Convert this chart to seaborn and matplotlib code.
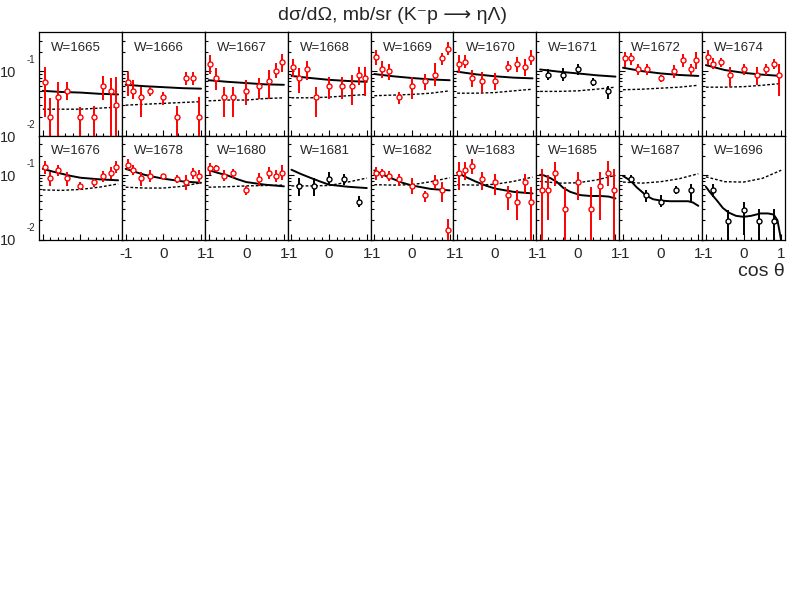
import numpy as np
import pandas as pd
import matplotlib
matplotlib.use("Agg")
import matplotlib.pyplot as plt
import matplotlib.transforms as mtransforms
from matplotlib.ticker import FixedLocator, NullFormatter, MultipleLocator
import seaborn as sns

# ---------------- data ----------------
W_LABELS = [1665, 1666, 1667, 1668, 1669, 1670, 1671, 1672, 1674,
            1676, 1678, 1680, 1681, 1682, 1683, 1685, 1687, 1696]
BLACK_W = [1671, 1681, 1687, 1696]

COS9 = [-0.95, -0.8, -0.6, -0.35, 0.0, 0.35, 0.6, 0.8, 0.95]
COS5 = [-0.8, -0.4, 0.0, 0.4, 0.8]

dsig = [
    [0.069, 0.020, 0.040, 0.050, 0.020, 0.020, 0.059, 0.050, 0.030],
    [0.069, 0.050, 0.040, 0.050, 0.040, 0.020, 0.079, 0.079, 0.020],
    [0.129, 0.079, 0.040, 0.040, 0.050, 0.059, 0.070, 0.102, 0.139],
    [0.118, 0.078, 0.107, 0.040, 0.059, 0.059, 0.059, 0.089, 0.079],
    [0.167, 0.107, 0.100, 0.040, 0.059, 0.070, 0.089, 0.159, 0.226],
    [0.129, 0.139, 0.079, 0.070, 0.070, 0.118, 0.129, 0.118, 0.164],
    [0.089, 0.089, 0.107, 0.069, 0.050],
    [0.159, 0.159, 0.107, 0.107, 0.079, 0.100, 0.149, 0.107, 0.149],
    [0.167, 0.129, 0.139, 0.089, 0.107, 0.089, 0.107, 0.129, 0.089],
    [0.133, 0.090, 0.118, 0.090, 0.069, 0.078, 0.097, 0.109, 0.135],
    [0.144, 0.118, 0.090, 0.097, 0.097, 0.088, 0.078, 0.108, 0.097],
    [0.128, 0.128, 0.097, 0.108, 0.058, 0.088, 0.108, 0.097, 0.108],
    [0.069, 0.069, 0.088, 0.088, 0.039],
    [0.108, 0.108, 0.097, 0.088, 0.067, 0.0485, 0.078, 0.058, 0.0141],
    [0.108, 0.118, 0.138, 0.088, 0.078, 0.0485, 0.039, 0.078, 0.039],
    [0.059, 0.059, 0.108, 0.0295, 0.078, 0.0295, 0.067, 0.108, 0.059],
    [0.088, 0.0485, 0.039, 0.059, 0.059],
    [0.059, 0.0194, 0.029, 0.0194, 0.0194],
]
err_hi = [
    [0.118, 0.0384, 0.069, 0.069, 0.0285, 0.029, 0.085, 0.078, 0.083],
    [0.099, 0.073, 0.058, 0.058, 0.048, 0.029, 0.099, 0.099, 0.040],
    [0.178, 0.111, 0.058, 0.058, 0.073, 0.078, 0.105, 0.133, 0.189],
    [0.153, 0.111, 0.146, 0.058, 0.083, 0.083, 0.088, 0.118, 0.118],
    [0.218, 0.146, 0.128, 0.048, 0.081, 0.090, 0.133, 0.190, 0.286],
    [0.178, 0.178, 0.105, 0.099, 0.093, 0.146, 0.167, 0.153, 0.213],
    [0.107, 0.111, 0.128, 0.078, 0.059],
    [0.203, 0.190, 0.128, 0.128, 0.088, 0.125, 0.189, 0.128, 0.197],
    [0.213, 0.159, 0.163, 0.118, 0.128, 0.118, 0.128, 0.153, 0.128],
    [0.168, 0.111, 0.144, 0.111, 0.078, 0.088, 0.114, 0.133, 0.168],
    [0.178, 0.141, 0.111, 0.118, 0.105, 0.099, 0.099, 0.128, 0.118],
    [0.155, 0.144, 0.118, 0.125, 0.069, 0.108, 0.133, 0.118, 0.141],
    [0.090, 0.090, 0.111, 0.105, 0.047],
    [0.133, 0.125, 0.114, 0.105, 0.090, 0.056, 0.099, 0.078, 0.0208],
    [0.158, 0.158, 0.178, 0.111, 0.105, 0.067, 0.058, 0.105, 0.065],
    [0.125, 0.099, 0.158, 0.065, 0.111, 0.065, 0.111, 0.168, 0.125],
    [0.101, 0.058, 0.050, 0.069, 0.0735],
    [0.0735, 0.0285, 0.0384, 0.0303, 0.0303],
]
err_lo = [
    [0.020, 0.005, 0.005, 0.036, 0.005, 0.005, 0.036, 0.005, 0.005],
    [0.041, 0.038, 0.020, 0.041, 0.030, 0.005, 0.062, 0.062, 0.005],
    [0.091, 0.051, 0.020, 0.020, 0.030, 0.038, 0.038, 0.078, 0.099],
    [0.083, 0.047, 0.073, 0.020, 0.038, 0.038, 0.030, 0.062, 0.041],
    [0.126, 0.078, 0.073, 0.031, 0.038, 0.051, 0.059, 0.126, 0.178],
    [0.093, 0.111, 0.058, 0.047, 0.051, 0.099, 0.099, 0.085, 0.126],
    [0.073, 0.070, 0.089, 0.059, 0.038],
    [0.118, 0.125, 0.088, 0.088, 0.069, 0.078, 0.118, 0.088, 0.107],
    [0.125, 0.107, 0.118, 0.058, 0.088, 0.062, 0.088, 0.107, 0.041],
    [0.105, 0.069, 0.097, 0.069, 0.0615, 0.065, 0.078, 0.088, 0.108],
    [0.118, 0.099, 0.069, 0.078, 0.088, 0.076, 0.058, 0.088, 0.076],
    [0.101, 0.111, 0.080, 0.090, 0.0485, 0.069, 0.088, 0.078, 0.083],
    [0.047, 0.047, 0.071, 0.071, 0.032],
    [0.083, 0.090, 0.080, 0.069, 0.0515, 0.039, 0.060, 0.039, 0.0095],
    [0.058, 0.083, 0.105, 0.058, 0.0485, 0.0285, 0.020, 0.0515, 0.005],
    [0.005, 0.020, 0.069, 0.005, 0.0407, 0.005, 0.020, 0.069, 0.005],
    [0.076, 0.039, 0.032, 0.0515, 0.039],
    [0.046, 0.005, 0.012, 0.005, 0.005],
]

CX5 = [-1.0, -0.5, 0.0, 0.5, 1.0]
CX7 = [-1.0, -0.75, -0.5, -0.25, 0.0, 0.5, 1.0]
CX1685 = [-1.0, -0.9, -0.73, -0.55, -0.38, -0.2, 0.07, 0.33, 0.6, 0.82, 1.0]
CX1687 = [-1.0, -0.8, -0.64, -0.37, -0.2, 0.0, 0.25, 0.5, 0.73, 0.86, 1.0]
CX1696 = [-1.0, -0.9, -0.7, -0.55, -0.4, -0.2, 0.0, 0.2, 0.45, 0.65, 0.8, 0.9, 0.97, 1.0]
solid_x = [CX5] * 9 + [CX7] * 6 + [CX1685, CX1687, CX1696]
solid_y = [
    [0.050, 0.048, 0.047, 0.045, 0.044],
    [0.062, 0.059, 0.057, 0.055, 0.054],
    [0.073, 0.069, 0.066, 0.063, 0.062],
    [0.085, 0.079, 0.074, 0.071, 0.069],
    [0.091, 0.084, 0.079, 0.075, 0.073],
    [0.099, 0.090, 0.084, 0.080, 0.078],
    [0.107, 0.099, 0.093, 0.087, 0.083],
    [0.114, 0.101, 0.093, 0.088, 0.085],
    [0.125, 0.105, 0.095, 0.089, 0.085],
    [0.125, 0.114, 0.105, 0.097, 0.091, 0.086, 0.083],
    [0.125, 0.112, 0.101, 0.094, 0.088, 0.080, 0.076],
    [0.120, 0.108, 0.099, 0.087, 0.078, 0.071, 0.067],
    [0.121, 0.104, 0.091, 0.080, 0.071, 0.066, 0.063],
    [0.118, 0.100, 0.087, 0.076, 0.069, 0.061, 0.058],
    [0.109, 0.092, 0.079, 0.069, 0.062, 0.055, 0.052],
    [0.101, 0.099, 0.090, 0.078, 0.063, 0.055, 0.049, 0.0475, 0.0475, 0.0465, 0.0435],
    [0.097, 0.082, 0.065, 0.0475, 0.0423, 0.0403, 0.0394, 0.0394, 0.0394, 0.0376, 0.0334],
    [0.066, 0.055, 0.040, 0.031, 0.0264, 0.0234, 0.0226, 0.0234, 0.0255, 0.0255, 0.0245, 0.020, 0.012, 0.0095],
]
dashed_y = [
    [0.026, 0.026, 0.026, 0.027, 0.028],
    [0.030, 0.031, 0.032, 0.033, 0.034],
    [0.035, 0.036, 0.036, 0.038, 0.039],
    [0.039, 0.039, 0.040, 0.042, 0.044],
    [0.042, 0.043, 0.044, 0.046, 0.050],
    [0.046, 0.046, 0.047, 0.050, 0.053],
    [0.049, 0.049, 0.050, 0.053, 0.057],
    [0.052, 0.053, 0.055, 0.057, 0.061],
    [0.057, 0.057, 0.058, 0.061, 0.065],
    [0.059, 0.058, 0.060, 0.065, 0.073],
    [0.065, 0.063, 0.063, 0.067, 0.076],
    [0.065, 0.066, 0.068, 0.069, 0.070],
    [0.068, 0.068, 0.069, 0.078, 0.090],
    [0.071, 0.070, 0.071, 0.079, 0.091],
    [0.071, 0.070, 0.072, 0.080, 0.093],
    [0.080, 0.075, 0.076, 0.084, 0.099],
    [0.078, 0.075, 0.079, 0.088, 0.105],
    [0.094, 0.079, 0.078, 0.089, 0.119],
]

TITLE = "d\u03c3/d\u03a9, mb/sr (K\u207bp \u27f6 \u03b7\u039b)"
XLABEL = "cos \u03b8"
YTICK_EXP = ["-2", "-1"]
XTICK_LABELS = ["-1", "0", "1"]

# ---------------- style ----------------
sns.set_style("ticks")
plt.rcParams["font.family"] = ["Liberation Sans", "DejaVu Sans"]
plt.rcParams["xtick.direction"] = "in"
plt.rcParams["ytick.direction"] = "in"

W, H = 789, 591
fig, axes = plt.subplots(2, 9, figsize=(W / 100, H / 100), dpi=100)
fig.subplots_adjust(left=39 / W, right=785 / W, top=1 - 32.3 / H,
                    bottom=1 - 239.7 / H, wspace=0, hspace=0)

RED = "#ff0000"
YTOP = 10 ** -0.395

for i, ax in enumerate(axes.flat):
    row, col = divmod(i, 9)
    w = W_LABELS[i]
    color = "black" if w in BLACK_W else RED
    cos = COS9 if len(dsig[i]) == 9 else COS5
    # model curves
    sns.lineplot(x=CX5, y=dashed_y[i], ax=ax, color="black", lw=1.0,
                 linestyle=(0, (2.0, 1.4)), errorbar=None, zorder=2)
    sns.lineplot(x=solid_x[i], y=solid_y[i], ax=ax, color="black", lw=1.4,
                 errorbar=None, zorder=2)
    v = np.array(dsig[i])
    yerr = [v - np.array(err_lo[i]), np.array(err_hi[i]) - v]
    ax.errorbar(cos, v, yerr=yerr, fmt="o", ms=3.6, mfc="white", mec=color,
                mew=1.0, ecolor=color, elinewidth=1.4, capsize=0, zorder=3)
    ax.set_yscale("log")
    ax.set_ylim(0.01, YTOP)
    ax.set_xlim(-1.1, 1.1)
    ax.set_xlabel("")
    ax.set_ylabel("")

    # ticks
    ax.yaxis.set_major_locator(FixedLocator([0.01, 0.1]))
    ax.yaxis.set_minor_locator(FixedLocator([k * 0.01 for k in range(2, 10)] +
                                            [0.2, 0.3]))
    ax.yaxis.set_minor_formatter(NullFormatter())
    ax.xaxis.set_major_locator(FixedLocator([-1, 0, 1]))
    ax.xaxis.set_minor_locator(MultipleLocator(0.2))
    ax.tick_params(which="major", length=4.5, width=0.8, color="black")
    ax.tick_params(which="minor", length=2.3, width=0.8, color="black")
    ax.tick_params(top=False, right=False)
    for s in ax.spines.values():
        s.set_linewidth(0.9)
        s.set_color("black")
        s.set_visible(True)

    if col == 0:
        ax.set_yticks([0.01, 0.1], labels=["10", "10"])
        ax.tick_params(axis="y", which="major", pad=16.5, labelsize=10.5)
        trans = mtransforms.blended_transform_factory(ax.transAxes, ax.transData)
        off = mtransforms.ScaledTranslation(0, 11.5 / 100, fig.dpi_scale_trans)
        for val, ex in zip([0.01, 0.1], YTICK_EXP):
            ax.text(-0.048, val, ex, transform=trans + off, ha="right",
                    va="center", fontsize=7)
    else:
        ax.set_yticklabels([])

    if row == 1 and col > 0:
        ax.set_xticks([-1, 0, 1], labels=XTICK_LABELS)
        ax.tick_params(axis="x", which="major", pad=5, labelsize=11)
    else:
        ax.set_xticklabels([])

    ax.text(0.145, 0.85 if row == 0 else 0.86, f"W={w}",
            transform=ax.transAxes, ha="left", va="center", fontsize=9.5)

fig.text(0.5 * (273 + 512) / W, 1 - 15.5 / H, TITLE, ha="center", va="center",
         fontsize=14)
fig.text(785 / W, 1 - 271 / H, XLABEL, ha="right", va="center", fontsize=14)

fig.savefig("out.png", dpi=100)
